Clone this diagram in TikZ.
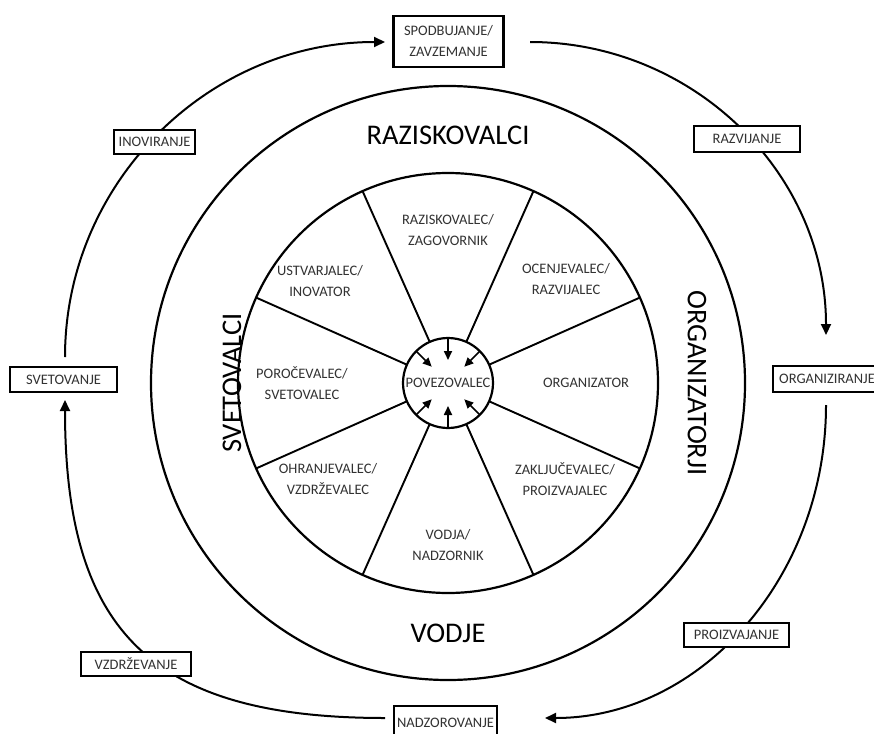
\documentclass[tikz,border=0pt]{standalone}
\usepackage{fontspec}
\setmainfont{Carlito}
\usetikzlibrary{arrows.meta,calc}
\definecolor{labelgray}{RGB}{50,50,50}

\tikzset{
  lbl/.style={text=labelgray, font=\fontsize{14.5}{21}\selectfont, align=center, inner sep=0pt},
  stagebox/.style={draw=black, line width=2.4pt, fill=white, text=labelgray,
    font=\fontsize{14.5}{21}\selectfont, align=center, inner sep=0pt},
  ring/.style={line width=2.2pt},
  spoke/.style={line width=1.9pt},
  cyc/.style={line width=2pt},
  cycarrow/.style={cyc, -{Triangle[length=11pt,width=10pt]}},
  hubarrow/.style={line width=1.7pt, -{Triangle[length=9pt,width=8pt]}},
  grouplbl/.style={font=\fontsize{28.5}{31}\selectfont, text=black, inner sep=0pt},
}

\begin{document}
\begin{tikzpicture}[x=1pt,y=-1pt]
\useasboundingbox (0,0) rectangle (874,733);
\clip (0,0) rectangle (874,733);

% centre and rings
\coordinate (c) at (448,383);
\draw[ring] (c) circle[radius=297];
\draw[ring] (c) circle[radius=210];
\node[draw, ring, circle, minimum size=90pt, inner sep=0pt] (hub) at (c) {};

% spokes dividing the eight roles
\foreach \a in {24,66,114,156,204,246,294,336}
  \draw[spoke] ($(c)+(\a:45)$) -- ($(c)+(\a:210)$);

% arrows pointing into the hub
\foreach \a in {45,90,135,225,270,315}
  \draw[hubarrow] ($(c)+(\a:45)$) -- ($(c)+(\a:23)$);

\node[lbl, fill=white] (povez) at (c) {POVEZOVALEC};

% role labels
\node[lbl] (r1) at (448,230) {RAZISKOVALEC/\\ZAGOVORNIK};
\node[lbl] (r2) at (566,279) {OCENJEVALEC/\\RAZVIJALEC};
\node[lbl] (r3) at (586,383) {ORGANIZATOR};
\node[lbl] (r4) at (565,479) {ZAKLJUČEVALEC/\\PROIZVAJALEC};
\node[lbl] (r5) at (448,545) {VODJA/\\NADZORNIK};
\node[lbl] (r6) at (328,479) {OHRANJEVALEC/\\VZDRŽEVALEC};
\node[lbl] (r7) at (302,383) {POROČEVALEC/\\SVETOVALEC};
\node[lbl] (r8) at (320,281) {USTVARJALEC/\\INOVATOR};

% group labels in the outer ring
\node[grouplbl] (g1) at (448,135) {RAZISKOVALCI};
\node[grouplbl] (g2) at (448,633) {VODJE};
\node[grouplbl, rotate=90] (g3) at (232,383) {SVETOVALCI};
\node[grouplbl, rotate=-90] (g4) at (697,383) {ORGANIZATORJI};

% ends of the outer cycle arcs
\coordinate (tlA) at (65,357);
\coordinate (tlB) at (385,42);
\coordinate (trA) at (530,42);
\coordinate (trB) at (826,335);
\coordinate (brA) at (826,405);
\coordinate (brB) at (545,718);
\coordinate (blA) at (385,718);
\coordinate (blB) at (65,400);

\draw[cycarrow] (tlA) .. controls (65,183) and (208,42) .. (tlB);
\draw[cycarrow] (trA) .. controls (693,42) and (826,173) .. (trB);
\draw[cycarrow] (brA) .. controls (826,578) and (700,718) .. (brB);
\draw[cycarrow] (blA) .. controls (150,718) and (65,630) .. (blB);

% stage boxes sitting on the cycle
\node[stagebox, minimum width=110pt, minimum height=51pt] (spod) at (448.5,41.5) {SPODBUJANJE/\\ZAVZEMANJE};
\node[stagebox, minimum width=81pt, minimum height=24pt] (inov) at (154.5,142) {INOVIRANJE};
\node[stagebox, minimum width=106pt, minimum height=26pt] (razv) at (747,139) {RAZVIJANJE};
\node[stagebox, minimum width=107pt, minimum height=25pt] (svet) at (63.5,379.5) {SVETOVANJE};
\node[stagebox, minimum width=108pt, minimum height=26pt] (orgz) at (827,379) {ORGANIZIRANJE};
\node[stagebox, minimum width=110pt, minimum height=24pt] (vzdr) at (136,664) {VZDRŽEVANJE};
\node[stagebox, minimum width=105pt, minimum height=24pt] (proi) at (736.5,635) {PROIZVAJANJE};
\node[stagebox, minimum width=103pt, minimum height=34pt] (nadz) at (445.5,723) {NADZOROVANJE};
\end{tikzpicture}
\end{document}
